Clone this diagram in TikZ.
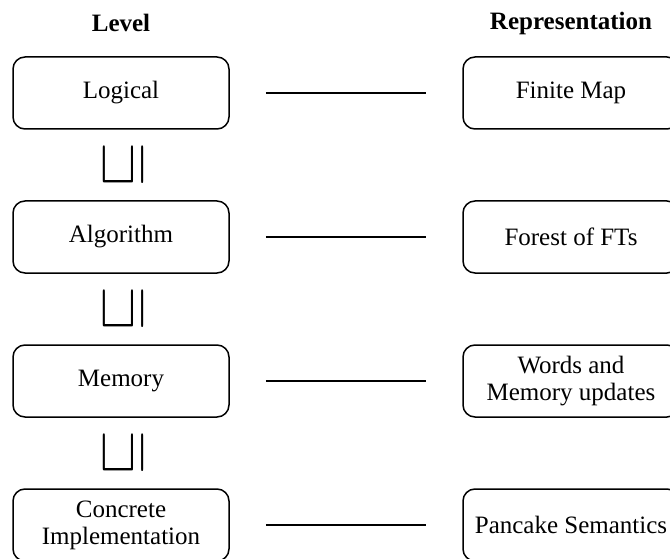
\documentclass[tikz,border=0pt]{standalone}
\usepackage{fontspec}
\usepackage{graphicx}
\setmainfont{Liberation Serif}
\begin{document}
\begin{tikzpicture}[x=1pt,y=-1pt,
    level/.style={shape=rectangle,draw=black,line width=1.5pt,rounded corners=12pt,
      minimum width=216pt,minimum height=72pt,align=center,
      font=\fontsize{25}{27}\selectfont},
    head/.style={font=\fontsize{25}{27}\selectfont\bfseries},
    refines/.style={rotate=90,inner sep=0pt,font=\fontsize{25}{27}\selectfont},
    link/.style={line width=1.3pt,shorten <=36pt,shorten >=36pt}]
  \useasboundingbox (0,0) rectangle (670,559);

  \node[head] (hl) at (121,23) {Level};
  \node[head] (hr) at (571,23) {Representation};

  \node[level] (lg) at (121,93) {Logical};
  \node[level] (al) at (121,237) {Algorithm};
  \node[level] (me) at (121,381) {Memory};
  \node[level] (ci) at (121,525) {Concrete\\Implementation};

  \node[level] (fm) at (571,93) {Finite Map};
  \node[level] (ft) at (571,237) {Forest of FTs};
  \node[level] (wm) at (571,381) {Words and\\Memory updates};
  \node[level] (ps) at (571,525) {Pancake Semantics};

  \node[refines] (r1) at (123,165) {\scalebox{2.4}[2.1]{$\sqsubseteq$}};
  \node[refines] (r2) at (123,309) {\scalebox{2.4}[2.1]{$\sqsubseteq$}};
  \node[refines] (r3) at (123,453) {\scalebox{2.4}[2.1]{$\sqsubseteq$}};

  \path[link] (lg) edge (fm);
  \path[link] (al) edge (ft);
  \path[link] (me) edge (wm);
  \path[link] (ci) edge (ps);
\end{tikzpicture}
\end{document}
